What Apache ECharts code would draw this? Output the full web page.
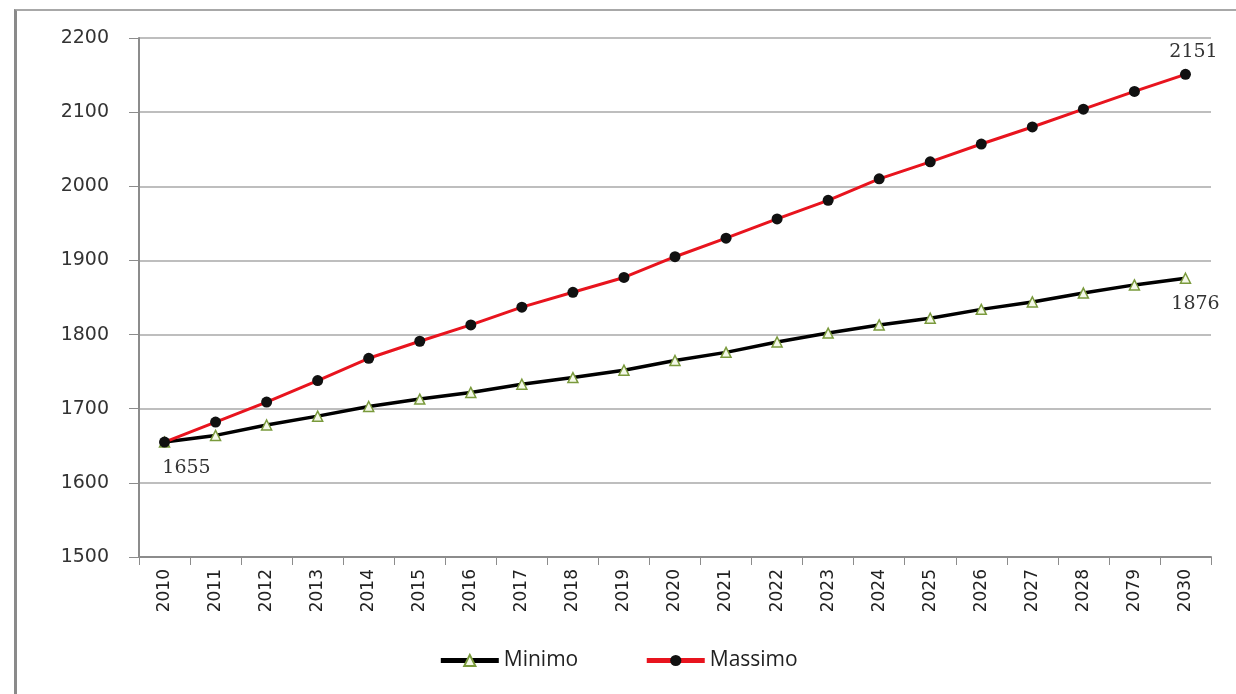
<!DOCTYPE html>
<html>
<head>
<meta charset="utf-8">
<script src="https://cdn.jsdelivr.net/npm/echarts@6/dist/echarts.min.js"></script>
<style>
  html, body { margin: 0; padding: 0; background: #fff; }
  #frame {
    position: absolute; left: 14px; top: 9px; width: 1230px; height: 700px;
    border-left: 3px solid #8a8a8a; border-top: 2px solid #a8a8a8;
  }
  #chart { position: absolute; left: 0; top: 0; width: 1236px; height: 694px; }
</style>
</head>
<body>
<div id="frame"></div>
<div id="chart"></div>
<script>
const years = ['2010', '2011', '2012', '2013', '2014', '2015', '2016', '2017', '2018', '2019',
  '2020', '2021', '2022', '2023', '2024', '2025', '2026', '2027', '2028', '2079', '2030'];
const minimo = [1655, 1664, 1678, 1690, 1703, 1713, 1722, 1733, 1742, 1752,
  1765, 1776, 1790, 1802, 1813, 1822, 1834, 1844, 1856, 1867, 1876];
const massimo = [1655, 1682, 1709, 1738, 1768, 1791, 1813, 1837, 1857, 1877,
  1905, 1930, 1956, 1981, 2010, 2033, 2057, 2080, 2104, 2128, 2151];

const labelFont = {
  fontFamily: '"DejaVu Serif", serif',
  fontSize: 19,
  color: '#333',
};

// only a few points carry a value label
const withLabels = (values, labels) => values.map((v, i) => {
  if (!labels[i]) return v;
  return { value: v, label: Object.assign({ show: true, formatter: '{c}' }, labelFont, labels[i]) };
});

const chart = echarts.init(document.getElementById('chart'));

chart.setOption({
  animation: false,
  grid: { left: 139, right: 25, top: 38, bottom: 137 },
  legend: {
    bottom: 18,
    left: 'center',
    itemWidth: 58,
    itemHeight: 14,
    itemGap: 66,
    lineStyle: { width: 5 },
    textStyle: { fontFamily: '"Open Sans", sans-serif', fontSize: 21, color: '#222' },
    data: ['Minimo', 'Massimo'],
  },
  xAxis: {
    type: 'category',
    data: years,
    boundaryGap: true,
    axisLine: { lineStyle: { color: '#8c8c8c', width: 2 } },
    axisTick: { show: true, length: 8, lineStyle: { color: '#8c8c8c' } },
    axisLabel: {
      rotate: 90,
      margin: 12,
      fontFamily: '"DejaVu Sans", sans-serif',
      fontSize: 17,
      color: '#222',
    },
  },
  yAxis: {
    type: 'value',
    min: 1500,
    max: 2200,
    interval: 100,
    axisLine: { show: true, lineStyle: { color: '#8c8c8c', width: 2 } },
    axisTick: { show: true, length: 10, lineStyle: { color: '#8c8c8c' } },
    axisLabel: {
      margin: 30,
      formatter: (v) => String(v),
      fontFamily: '"DejaVu Sans", sans-serif',
      fontSize: 19,
      color: '#333',
    },
    splitLine: { lineStyle: { color: '#a8a8a8', width: 1.5 } },
  },
  series: [
    {
      name: 'Minimo',
      type: 'line',
      data: withLabels(minimo, {
        0: { position: 'bottom', offset: [22, 6] },
        20: { position: 'bottom', offset: [10, 6] },
      }),
      symbol: 'triangle',
      symbolSize: 10,
      lineStyle: { color: '#000', width: 3.5 },
      itemStyle: { color: '#f4f8e8', borderColor: '#7a9a3c', borderWidth: 1.5 },
      z: 3,
    },
    {
      name: 'Massimo',
      type: 'line',
      data: withLabels(massimo, {
        20: { position: 'top', offset: [8, -2] },
      }),
      symbol: 'circle',
      symbolSize: 11,
      lineStyle: { color: '#e8141e', width: 3 },
      itemStyle: { color: '#111', borderColor: '#111', borderWidth: 0 },
      z: 4,
    },
  ],
});
</script>
</body>
</html>
